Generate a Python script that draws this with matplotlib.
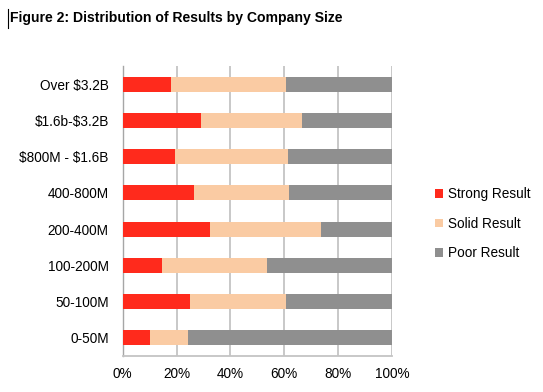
import matplotlib
matplotlib.use("Agg")
import matplotlib.pyplot as plt
from matplotlib.ticker import PercentFormatter

categories = ["0-50M", "50-100M", "100-200M", "200-400M", "400-800M",
              "$800M - $1.6B", "$1.6b-$3.2B", "Over $3.2B"]
strong = [10.1, 25.0, 14.6, 32.4, 26.5, 19.4, 29.1, 17.9]
solid = [14.1, 35.6, 39.0, 41.2, 35.3, 42.0, 37.5, 42.6]
poor = [100 - s - d for s, d in zip(strong, solid)]
series_names = ["Strong Result", "Solid Result", "Poor Result"]
colors = ["#FF2A1C", "#FACBA3", "#8F8F8F"]
xticks = [0, 20, 40, 60, 80, 100]

plt.rcParams['font.family'] = ['Liberation Sans', 'DejaVu Sans']
plt.rcParams['text.parse_math'] = False

fig = plt.figure(figsize=(5.43, 3.92), dpi=100)
ax = fig.add_axes([122.7/543, 1 - 356/392, (392 - 122.7)/543, (356 - 66)/392])

y = list(range(len(categories)))
left = [0]*len(categories)
for vals, name, c in zip([strong, solid, poor], series_names, colors):
    ax.barh(y, vals, left=left, height=0.42, color=c, label=name, zorder=3)
    left = [l + v for l, v in zip(left, vals)]

ax.set_xlim(0, 100)
ax.set_ylim(-0.5, len(categories) - 0.5)
ax.set_xticks(xticks)
ax.xaxis.set_major_formatter(PercentFormatter(decimals=0))
ax.set_yticks(y)
ax.set_yticklabels(categories)
ax.grid(axis='x', color='#C4C4C4', linewidth=1.3, zorder=0)
for s in ['top', 'right']:
    ax.spines[s].set_visible(False)
ax.spines['left'].set_color('#A6A6A6')
ax.spines['bottom'].set_color('#C4C4C4')
ax.spines['left'].set_linewidth(1.0)
ax.spines['bottom'].set_linewidth(1.3)
ax.tick_params(axis='both', length=0, labelsize=9.8, colors='black', pad=8)
ax.tick_params(axis='y', pad=10)

leg = fig.legend(loc='upper left', bbox_to_anchor=(423/543, 1 - 175/392),
                 frameon=False, fontsize=9.8, handlelength=0.6, handleheight=0.6,
                 handletextpad=0.35, labelspacing=1.13)

fig.text(10/543, 1 - 18/392, "Figure 2: Distribution of Results by Company Size",
         fontsize=10.1, fontweight='bold', va='center', ha='left')
fig.add_artist(plt.Line2D([8/543, 8/543], [1 - 9/392, 1 - 28/392], color='black', linewidth=0.8))

fig.savefig("out.png", dpi=100)
